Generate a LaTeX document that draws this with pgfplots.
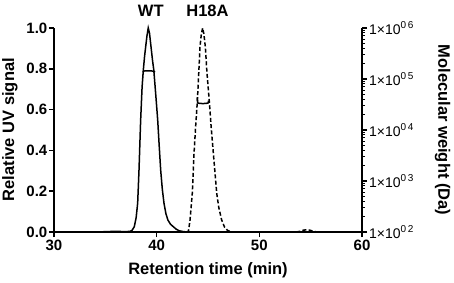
\documentclass[border=0pt]{standalone}
\usepackage{pgfplots}
\pgfplotsset{compat=1.18}
\usepackage{fontspec}
\setmainfont{Liberation Sans}
\newcommand{\tl}{\bfseries\fontsize{15}{17}\selectfont}
\newcommand{\al}{\bfseries\fontsize{16.5}{19}\selectfont}
\newcommand{\rt}[1]{1×10\raisebox{0.8ex}{\fontsize{10}{11}\selectfont 0\,#1}}
\begin{document}
\begin{tikzpicture}
\path[use as bounding box] (-54pt,-50pt) rectangle (400pt,232pt);
\begin{axis}[
  scale only axis, width=308pt, height=204pt,
  xmin=30, xmax=60, ymin=0, ymax=1,
  axis x line=bottom, axis y line=left,
  axis line style={-, line width=1.6pt},
  tick align=outside, major tick length=5pt,
  every tick/.style={line width=1.5pt, black},
  xtick={30,40,50,60}, xticklabels={30,40,50,60},
  ytick={0,0.2,0.4,0.6,0.8,1.0}, yticklabels={0.0,0.2,0.4,0.6,0.8,1.0},
  tick label style={font=\tl},
  yticklabel style={inner sep=1.5pt},
  xticklabel style={inner sep=2.5pt},
  xlabel={Retention time (min)}, ylabel={Relative UV signal},
  label style={font=\al},
  xlabel style={at={(axis description cs:0.5,-0.206)}, anchor=base},
  ylabel style={at={(axis description cs:-0.143,0.502)}, anchor=center},
  clip=false,
]
\addplot[black, line width=1.5pt] coordinates {
(30,0) (34.5,0) (35,0.002) (36,0.003) (37,0.002) (37.4,0.003) (37.6,0.008)
(37.82,0.026) (38.0,0.07) (38.15,0.142) (38.28,0.304) (38.44,0.549) (38.58,0.71)
(38.7,0.794) (38.82,0.86) (38.93,0.908) (39.05,0.96) (39.18,1.0) (39.3,0.975)
(39.45,0.908) (39.6,0.84) (39.72,0.794) (39.9,0.68) (40.10,0.549) (40.25,0.42)
(40.39,0.304) (40.55,0.21) (40.71,0.142) (40.9,0.09) (41.1,0.058) (41.35,0.038)
(41.62,0.026) (41.9,0.014) (42.2,0.006) (42.6,0.002) (43,0) (60,0)
};
\addplot[black, line width=1.5pt, dash pattern=on 4pt off 2.3pt] coordinates {
(42.9,0) (43.1,0.005) (43.25,0.059) (43.47,0.19) (43.64,0.386) (43.8,0.52)
(43.96,0.639) (44.1,0.78) (44.22,0.908) (44.35,0.97) (44.48,1.0) (44.6,0.97)
(44.74,0.908) (44.9,0.78) (45.13,0.639) (45.3,0.52) (45.52,0.386) (45.7,0.28)
(45.85,0.19) (46.05,0.12) (46.33,0.059) (46.6,0.025) (46.9,0.008) (47.3,0)
};
\addplot[black, line width=1.5pt, dash pattern=on 4pt off 2.3pt] coordinates {
(53.6,0) (54.0,0.004) (54.3,0.009) (54.6,0.011) (54.9,0.009) (55.2,0.005) (55.6,0)
};
\node[font=\al, anchor=base] at (axis cs:39.43,1.055) {WT};
\node[font=\al, anchor=base] at (axis cs:44.95,1.055) {H18A};
\end{axis}
\begin{axis}[
  scale only axis, width=308pt, height=204pt,
  xmin=30, xmax=60, ymode=log, ymin=100, ymax=1e6,
  axis x line=none, axis y line=right,
  axis line style={-, line width=1.6pt},
  tick align=outside, major tick length=5pt, minor tick length=3pt,
  every tick/.style={line width=1.5pt, black},
  every minor tick/.style={line width=0.9pt, black},
  ytick={100,1000,10000,100000,1000000},
  yticklabels={\rt{2},\rt{3},\rt{4},\rt{5},\rt{6}},
  minor ytick={200,300,400,500,600,700,800,900,2000,3000,4000,5000,6000,7000,8000,9000,20000,30000,40000,50000,60000,70000,80000,90000,200000,300000,400000,500000,600000,700000,800000,900000},
  yticklabel style={font=\fontsize{14}{16}\selectfont, inner sep=2pt},
  ylabel={Molecular weight (Da)},
  ylabel style={font=\al, at={(axis description cs:1.262,0.5)}, anchor=center, rotate=180},
  clip=false,
]
\addplot[black, line width=1.5pt] coordinates {
(38.68,1.38e5) (38.75,1.43e5) (39.0,1.45e5) (39.3,1.45e5) (39.6,1.43e5) (39.85,1.38e5)
};
\addplot[black, line width=1.5pt] coordinates {
(43.96,4.4e4) (43.99,3.4e4) (44.2,3.32e4) (44.5,3.3e4) (44.8,3.32e4) (45.02,3.4e4) (45.05,3.76e4)
};
\end{axis}
\end{tikzpicture}
\end{document}
